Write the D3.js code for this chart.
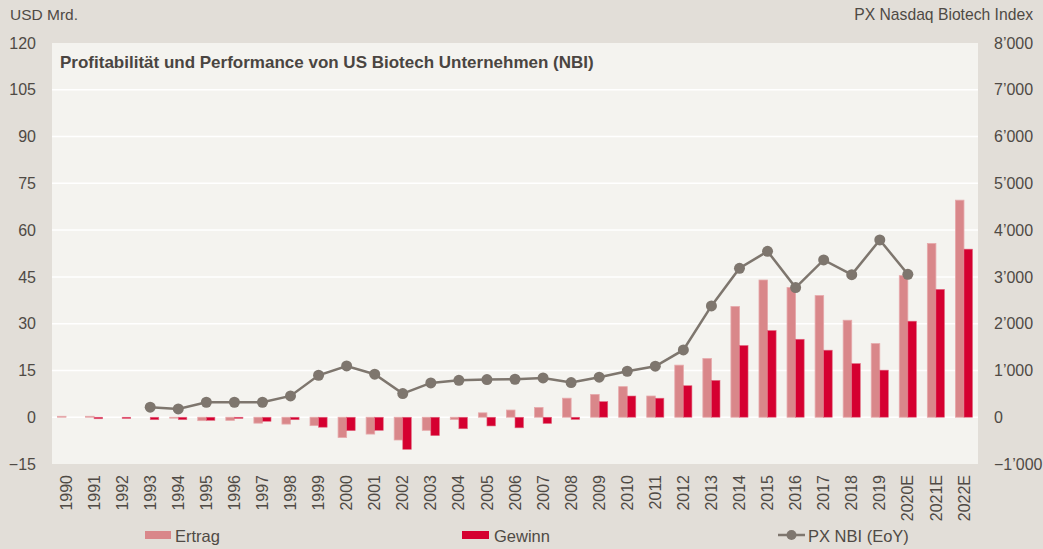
<!DOCTYPE html>
<html><head><meta charset="utf-8">
<script src="https://cdn.jsdelivr.net/npm/d3@7"></script>
<style>
html,body{margin:0;padding:0;background:#e2ded8;}
svg{display:block;font-family:"Liberation Sans",Arial,sans-serif;}
</style></head>
<body>
<svg id="chart" width="1043" height="549"></svg>
<script>
const years = ["1990","1991","1992","1993","1994","1995","1996","1997","1998","1999","2000","2001","2002","2003","2004","2005","2006","2007","2008","2009","2010","2011","2012","2013","2014","2015","2016","2017","2018","2019","2020E","2021E","2022E"];
const ertrag = [0.3,0.3,0,0,-0.3,-1.1,-1,-1.9,-2.2,-2.7,-6.5,-5.4,-7.3,-4.2,-0.7,1.4,2.3,3.1,6.1,7.3,9.8,6.8,16.7,18.8,35.5,44.0,41.6,39.0,31.1,23.6,45.4,55.7,69.6];
const gewinn = [0,-0.5,-0.4,-0.8,-0.8,-1.0,-0.4,-1.3,-0.8,-3.2,-4.3,-4.2,-10.3,-5.9,-3.7,-2.8,-3.4,-2.0,-0.7,5.0,6.8,6.1,10.1,11.8,23.0,27.8,25.0,21.5,17.2,15.1,30.8,41.0,53.9];
const nbi = [null,null,null,214,178,320,320,320,456,897,1096,919,506,733,790,805,812,840,741,855,983,1090,1438,2379,3184,3547,2771,3362,3048,3789,3056,null,null];
const leftTicks = [-15,0,15,30,45,60,75,90,105,120];
const rightTicks = [-1000,0,1000,2000,3000,4000,5000,6000,7000,8000];
const title = "Profitabilität und Performance von US Biotech Unternehmen (NBI)";

const svg = d3.select("#chart");
const W = 1043, H = 549;
const m = {l:52, r:1043-978, t:43, b:549-464};
const iw = W - m.l - m.r, ih = H - m.t - m.b;
const textCol = "#4f4a45";

svg.append("rect").attr("width",W).attr("height",H).attr("fill","#e2ded8");
const g = svg.append("g").attr("transform",`translate(${m.l},${m.t})`);
g.append("rect").attr("width",iw).attr("height",ih).attr("fill","#f4f3ef");

const x = d3.scaleBand().domain(years).range([0,iw]).paddingInner(0.39).paddingOuter(0.195);
const yL = d3.scaleLinear().domain([-15,120]).range([ih,0]);
const yR = d3.scaleLinear().domain([-1000,8000]).range([ih,0]);

// grid
g.append("g").selectAll("line").data(leftTicks.filter(t=>t>-15 && t<120)).join("line")
  .attr("x1",0).attr("x2",iw).attr("y1",d=>yL(d)).attr("y2",d=>yL(d))
  .attr("stroke","#ffffff").attr("stroke-width",1.5);

// bars
const bw = x.bandwidth()/2;
g.append("g").selectAll("rect").data(years).join("rect")
  .attr("x",d=>x(d)).attr("width",bw)
  .attr("y",(d,i)=>yL(Math.max(0,ertrag[i])))
  .attr("height",(d,i)=>Math.abs(yL(ertrag[i])-yL(0)))
  .attr("fill","#d9878a").attr("stroke","#e6a9ab").attr("stroke-width",0.8);
g.append("g").selectAll("rect").data(years).join("rect")
  .attr("x",d=>x(d)+bw).attr("width",bw)
  .attr("y",(d,i)=>yL(Math.max(0,gewinn[i])))
  .attr("height",(d,i)=>Math.abs(yL(gewinn[i])-yL(0)))
  .attr("fill","#d50030").attr("stroke","#e06a80").attr("stroke-width",0.6);

// line
const pts = years.map((d,i)=>({k:d,v:nbi[i]})).filter(p=>p.v!==null);
const cx = d=>x(d)+x.bandwidth()/2;
g.append("path").datum(pts)
  .attr("d",d3.line().x(p=>cx(p.k)).y(p=>yR(p.v)))
  .attr("fill","none").attr("stroke","#7e766e").attr("stroke-width",2.5);
g.append("g").selectAll("circle").data(pts).join("circle")
  .attr("cx",p=>cx(p.k)).attr("cy",p=>yR(p.v)).attr("r",5.5).attr("fill","#7e766e");

// axes
const fmtR = v => d3.format(",")(v).replace(/,/g,"\u2019");
const axL = g.append("g").call(d3.axisLeft(yL).tickValues(leftTicks).tickSize(0).tickPadding(16));
axL.select(".domain").remove();
axL.selectAll("text").attr("font-size",16).attr("fill",textCol).attr("font-family","Liberation Sans, Arial, sans-serif");
const axR = g.append("g").attr("transform",`translate(${iw},0)`)
  .call(d3.axisRight(yR).tickValues(rightTicks).tickFormat(fmtR).tickSize(0).tickPadding(16));
axR.select(".domain").remove();
axR.selectAll("text").attr("font-size",16).attr("fill",textCol).attr("font-family","Liberation Sans, Arial, sans-serif");
const axB = g.append("g").attr("transform",`translate(0,${ih})`)
  .call(d3.axisBottom(x).tickSize(0).tickPadding(0));
axB.select(".domain").remove();
axB.selectAll("text").attr("font-size",16).attr("fill",textCol).attr("font-family","Liberation Sans, Arial, sans-serif")
  .attr("transform","rotate(-90)").attr("text-anchor","end").attr("x",-11).attr("y",0).attr("dy","0.35em");

// titles
svg.append("text").attr("x",10).attr("y",20).attr("font-size",15.5).attr("fill",textCol).text("USD Mrd.");
svg.append("text").attr("x",1033).attr("y",20).attr("font-size",15.7).attr("fill",textCol).attr("text-anchor","end").text("PX Nasdaq Biotech Index");
svg.append("text").attr("x",60).attr("y",68).attr("font-size",17).attr("font-weight","bold").attr("fill","#4a4541").text(title);

// legend
const lg = svg.append("g");
lg.append("rect").attr("x",145).attr("y",531).attr("width",26).attr("height",8).attr("fill","#d9878a");
lg.append("text").attr("x",175).attr("y",542).attr("font-size",16.5).attr("fill",textCol).text("Ertrag");
lg.append("rect").attr("x",462).attr("y",531).attr("width",27).attr("height",8).attr("fill","#d50030");
lg.append("text").attr("x",494).attr("y",542).attr("font-size",16.5).attr("fill",textCol).text("Gewinn");
lg.append("line").attr("x1",778).attr("x2",805).attr("y1",535).attr("y2",535).attr("stroke","#7e766e").attr("stroke-width",2.5);
lg.append("circle").attr("cx",791.5).attr("cy",535).attr("r",5).attr("fill","#7e766e");
lg.append("text").attr("x",808).attr("y",542).attr("font-size",16.5).attr("fill",textCol).text("PX NBI (EoY)");
</script>
</body></html>
